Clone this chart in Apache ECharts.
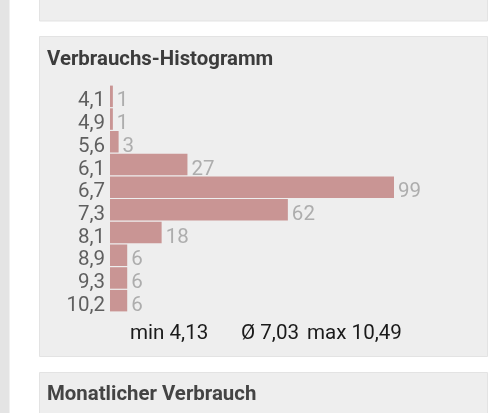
<!DOCTYPE html>
<html>
<head>
<meta charset="utf-8">
<style>html,body{margin:0;padding:0;background:#fff}#chart{width:500px;height:413px}</style>
<script src="https://cdn.jsdelivr.net/npm/echarts@6/dist/echarts.min.js"></script>
</head>
<body>
<div id="chart"></div>
<script>
var categories = ['4,1','4,9','5,6','6,1','6,7','7,3','8,1','8,9','9,3','10,2'];
var counts = [1,1,3,27,99,62,18,6,6,6];
var summary = ['min 4,13','Ø 7,03','max 10,49'];
var summaryX = [130,241,307];

function panel(y,h){
  return {type:'rect',silent:true,z:0,shape:{x:39.5,y:y,width:448,height:h},
    style:{fill:'#eeeeee',stroke:'#e3e3e3',lineWidth:1}};
}
var graphics = [
  {type:'rect',silent:true,z:0,shape:{x:0,y:0,width:9.5,height:413},style:{fill:'#e4e4e4'}},
  panel(-10,31),panel(36.5,320),panel(372.5,60),
  {type:'text',z:1,x:47,y:395,style:{text:'Monatlicher Verbrauch',fill:'#444',font:'bold 20.4px Roboto',textVerticalAlign:'middle'}}
];
summary.forEach(function(s,i){
  graphics.push({type:'text',z:1,x:summaryX[i],y:334,style:{text:s,fill:'#1a1a1a',font:'20.6px Roboto',textVerticalAlign:'middle'}});
});

var myChart = echarts.init(document.getElementById('chart'),null,{renderer:'canvas'});
myChart.setOption({
  animation:false,
  title:{text:'Verbrauchs-Histogramm',left:47,top:50,padding:0,
    textStyle:{color:'#3c3c3c',fontFamily:'Roboto',fontWeight:'bold',fontSize:20.4}},
  graphic:graphics,
  grid:{left:110,top:85,width:284,height:227},
  xAxis:{type:'value',min:0,max:99,show:false},
  yAxis:{type:'category',inverse:true,data:categories,
    axisLine:{show:false},axisTick:{show:false},
    axisLabel:{interval:0,color:'#5f5f5f',fontFamily:'Roboto',fontSize:20.5,margin:5,verticalAlign:'top',lineHeight:10}},
  series:[{type:'bar',data:counts,barWidth:21.5,
    itemStyle:{color:'#c99594'},
    label:{show:true,position:'right',distance:4,offset:[0,5],color:'#adadad',fontFamily:'Roboto',fontSize:20.5}}]
});
</script>
</body>
</html>
